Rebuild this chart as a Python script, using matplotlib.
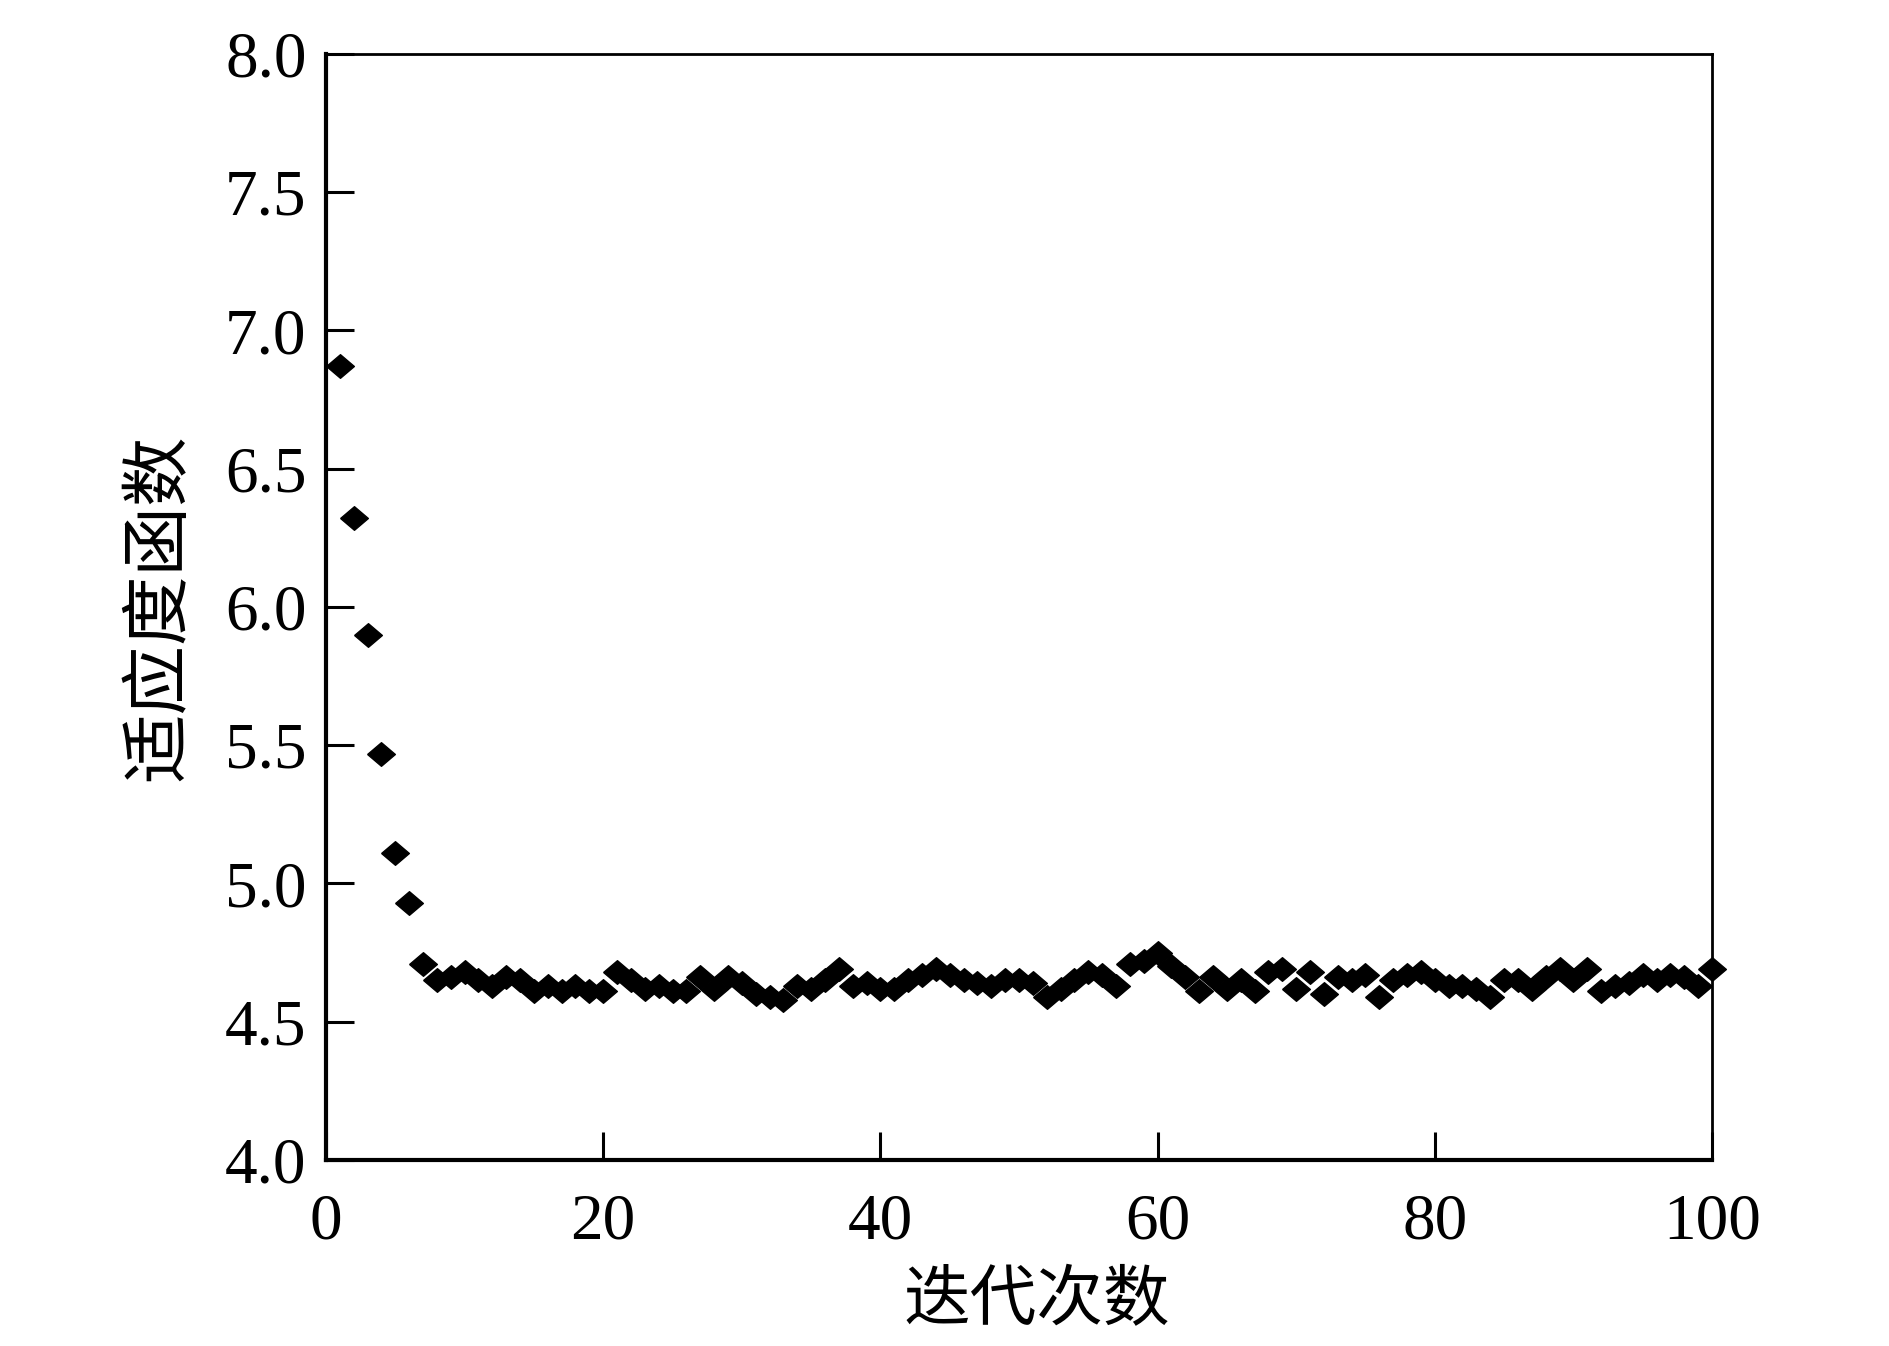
import matplotlib.pyplot as plt

# 迭代次数 / 适应度函数
iterations = list(range(1, 101))
fitness = [
    6.87, 6.32, 5.90, 5.47, 5.11, 4.93, 4.71, 4.65, 4.66, 4.68,
    4.65, 4.63, 4.66, 4.65, 4.61, 4.63, 4.61, 4.63, 4.61, 4.61,
    4.68, 4.65, 4.62, 4.63, 4.61, 4.61, 4.66, 4.62, 4.66, 4.64,
    4.60, 4.59, 4.58, 4.63, 4.62, 4.65, 4.69, 4.63, 4.64, 4.62,
    4.62, 4.65, 4.67, 4.69, 4.67, 4.65, 4.64, 4.63, 4.65, 4.65,
    4.64, 4.59, 4.62, 4.65, 4.68, 4.67, 4.63, 4.71, 4.72, 4.75,
    4.70, 4.66, 4.61, 4.66, 4.62, 4.65, 4.61, 4.68, 4.69, 4.62,
    4.68, 4.60, 4.66, 4.65, 4.67, 4.59, 4.65, 4.67, 4.68, 4.65,
    4.63, 4.63, 4.62, 4.59, 4.65, 4.65, 4.62, 4.66, 4.69, 4.65,
    4.69, 4.61, 4.63, 4.64, 4.67, 4.65, 4.67, 4.66, 4.63, 4.69,
]
x_ticks = [0, 20, 40, 60, 80, 100]
y_ticks = [4.0, 4.5, 5.0, 5.5, 6.0, 6.5, 7.0, 7.5, 8.0]

cjk = ['Noto Sans CJK SC', 'DejaVu Sans']

fig = plt.figure(figsize=(18.9, 13.46), dpi=100)
ax = fig.add_axes([0.1725, 0.1382, 0.7333, 0.8217])

# wider-than-tall diamond like the original
diamond = [(-1, 0), (0, 0.85), (1, 0), (0, -0.85), (-1, 0)]
ax.plot(iterations, fitness, linestyle='none', marker=diamond,
        markersize=20, color='black', clip_on=False)

ax.set_xlim(0, 100)
ax.set_ylim(4.0, 8.0)
ax.set_xticks(x_ticks)
ax.set_yticks(y_ticks)
ax.set_yticklabels(['%.1f' % v for v in y_ticks])

ax.tick_params(direction='in', length=20, width=2.2, top=False, right=False,
               labelsize=47)
ax.tick_params(axis='x', pad=24)
ax.tick_params(axis='y', pad=14)
for lab in ax.get_xticklabels() + ax.get_yticklabels():
    lab.set_fontfamily('Liberation Serif')

for side in ['left', 'bottom']:
    ax.spines[side].set_linewidth(3)
for side in ['top', 'right']:
    ax.spines[side].set_linewidth(2)

ax.set_xlabel('迭代次数', fontsize=48, family=cjk)
ax.xaxis.set_label_coords(0.513, -0.097)
ax.set_ylabel('适应度函数', fontsize=50, family=cjk, labelpad=22)

fig.savefig('out.png', dpi=100)
